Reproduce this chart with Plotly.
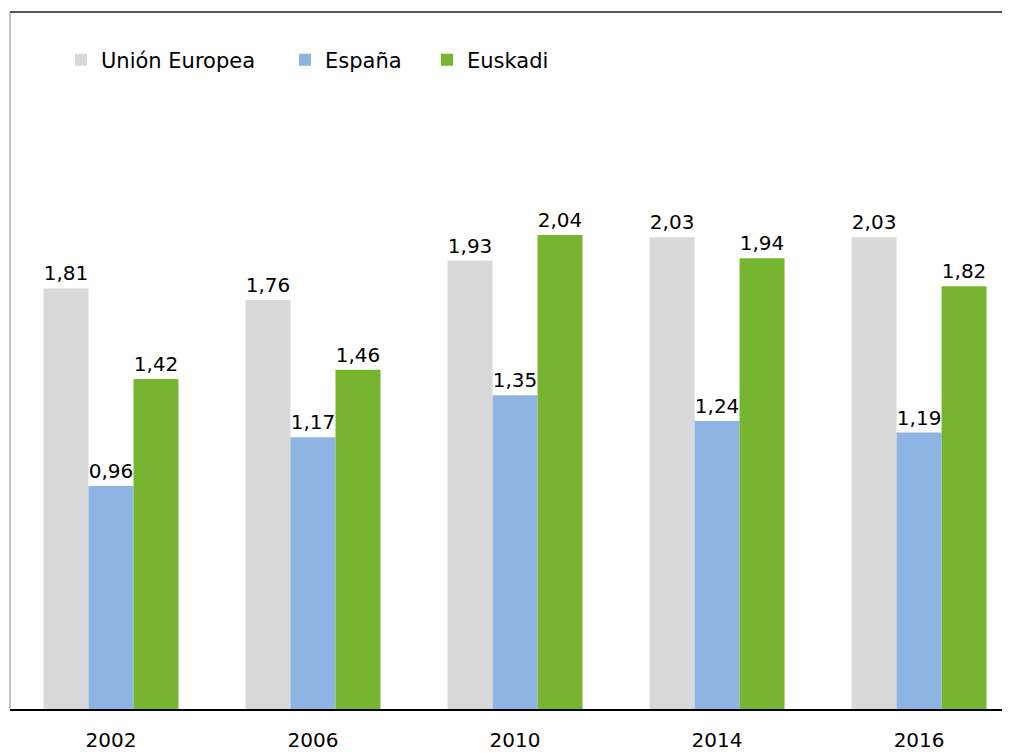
import plotly.graph_objects as go

years = ["2002", "2006", "2010", "2014", "2016"]
ue = [1.81, 1.76, 1.93, 2.03, 2.03]
espana = [0.96, 1.17, 1.35, 1.24, 1.19]
euskadi = [1.42, 1.46, 2.04, 1.94, 1.82]

series = [
    ("Unión Europea", ue, "#D9D9D9", "legend", 0.051),
    ("España", espana, "#8DB4E2", "legend2", 0.275),
    ("Euskadi", euskadi, "#77B530", "legend3", 0.417),
]

FONT = "DejaVu Sans"

fig = go.Figure()
legends = {}
for name, vals, color, leg, lx in series:
    fig.add_trace(go.Bar(
        x=years, y=vals, name=name, legend=leg,
        marker=dict(color=color, line=dict(width=0)),
        texttemplate="%{y:.2f}", textposition="outside",
        textfont=dict(family=FONT, size=20, color="#000000"),
        cliponaxis=False,
    ))
    legends[leg] = dict(orientation="h", x=lx, y=0.931, xanchor="left", yanchor="middle",
                        font=dict(family=FONT, size=21, color="#000000"),
                        bgcolor="rgba(0,0,0,0)")

fig.update_layout(
    width=1002, height=747,
    margin=dict(l=2, r=0, t=4, b=46),
    paper_bgcolor="white", plot_bgcolor="white",
    barmode="group", bargap=0.332, bargroupgap=0,
    separators=",.",
    showlegend=True,
    font=dict(family=FONT, color="#000000"),
    xaxis=dict(type="category", range=[-0.5, 4.45], showline=True, linecolor="#000000",
               linewidth=2, ticks="", ticklabelstandoff=12,
               tickfont=dict(family=FONT, size=20, color="#000000"),
               showgrid=False, zeroline=False),
    yaxis=dict(range=[0, 3], showticklabels=False, showgrid=False, zeroline=False,
               showline=False, ticks=""),
    shapes=[
        dict(type="line", xref="paper", yref="paper", x0=0, x1=1, y0=1, y1=1,
             line=dict(color="#555555", width=2)),
        dict(type="line", xref="paper", yref="paper", x0=0, x1=0, y0=0, y1=1,
             line=dict(color="#888888", width=1)),
    ],
)
fig.update_layout(**legends)

fig.write_html("out.html")
